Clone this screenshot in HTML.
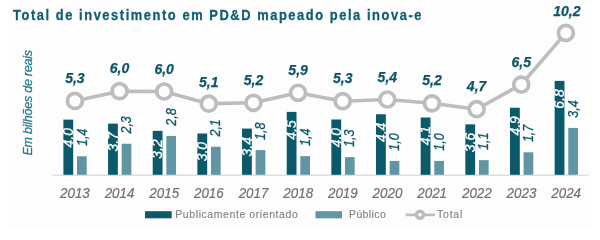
<!DOCTYPE html>
<html><head><meta charset="utf-8"><style>
html,body{margin:0;padding:0;background:#fff;}
body{width:600px;height:236px;position:relative;overflow:hidden;font-family:"Liberation Sans",sans-serif;}
#bg{position:absolute;left:6.5px;top:0;width:584px;height:226.5px;background:#fdfdfd;}
svg{position:absolute;left:0;top:0;will-change:transform;}
.bl{font-size:15.5px;font-style:italic;stroke-width:0.3px;font-family:"Liberation Sans",sans-serif;}
.yr{font-size:15px;font-style:italic;fill:#717171;stroke:#717171;stroke-width:0.2px;font-family:"Liberation Sans",sans-serif;}
.tt{font-size:14px;font-weight:bold;fill:#115e70;stroke:#115e70;stroke-width:0.3px;font-family:"Liberation Sans",sans-serif;}
.tl{font-size:15px;font-style:italic;font-weight:bold;fill:#0e5568;stroke:#0e5568;stroke-width:0.25px;font-family:"Liberation Sans",sans-serif;}
.ya{font-size:12.5px;font-style:italic;fill:#2a7b8d;stroke:#2a7b8d;stroke-width:0.3px;font-family:"Liberation Sans",sans-serif;}
.lg{font-size:11.3px;fill:#7f7f7f;stroke:#7f7f7f;stroke-width:0.12px;font-family:"Liberation Sans",sans-serif;}
</style></head><body>
<div id="bg"></div>

<svg width="600" height="236" viewBox="0 0 600 236">
<text class="tt" transform="translate(13,19.6) scale(0.92,1)" x="0" y="0" textLength="444" lengthAdjust="spacing">Total de investimento em PD&amp;D mapeado pela inova-e</text>
<text class="ya" transform="translate(32.4,155.5) rotate(-90)" textLength="105.5" lengthAdjust="spacing">Em bilhões de reais</text>
<line x1="52.5" y1="175.2" x2="588.8" y2="175.2" stroke="#dedede" stroke-width="1.4"/>
<rect x="63.40" y="119.63" width="9.8" height="55.17" fill="#0b5a6b"/>
<rect x="77.00" y="156.26" width="9.7" height="18.54" fill="#6096a3"/>
<text class="bl" fill="#fff" stroke="#fff" transform="translate(73.00,128.13) rotate(-90)" text-anchor="end" textLength="19.3" lengthAdjust="spacingAndGlyphs">4,0</text>
<text class="bl" fill="#0e5568" stroke="#0e5568" transform="translate(86.50,146.06) rotate(-90)" text-anchor="start" textLength="17.4" lengthAdjust="spacingAndGlyphs">1,4</text>
<text class="yr" x="74.90" y="197.5" text-anchor="middle" textLength="29.8" lengthAdjust="spacingAndGlyphs">2013</text>
<rect x="108.06" y="123.63" width="9.8" height="51.17" fill="#0b5a6b"/>
<rect x="121.66" y="143.76" width="9.7" height="31.04" fill="#6096a3"/>
<text class="bl" fill="#fff" stroke="#fff" transform="translate(117.66,132.13) rotate(-90)" text-anchor="end" textLength="19.3" lengthAdjust="spacingAndGlyphs">3,7</text>
<text class="bl" fill="#0e5568" stroke="#0e5568" transform="translate(131.16,133.56) rotate(-90)" text-anchor="start" textLength="17.4" lengthAdjust="spacingAndGlyphs">2,3</text>
<text class="yr" x="119.56" y="197.5" text-anchor="middle" textLength="29.8" lengthAdjust="spacingAndGlyphs">2014</text>
<rect x="152.72" y="130.87" width="9.8" height="43.93" fill="#0b5a6b"/>
<rect x="166.32" y="135.95" width="9.7" height="38.85" fill="#6096a3"/>
<text class="bl" fill="#fff" stroke="#fff" transform="translate(162.32,139.37) rotate(-90)" text-anchor="end" textLength="19.3" lengthAdjust="spacingAndGlyphs">3,2</text>
<text class="bl" fill="#0e5568" stroke="#0e5568" transform="translate(175.82,125.75) rotate(-90)" text-anchor="start" textLength="17.4" lengthAdjust="spacingAndGlyphs">2,8</text>
<text class="yr" x="164.22" y="197.5" text-anchor="middle" textLength="29.8" lengthAdjust="spacingAndGlyphs">2015</text>
<rect x="197.38" y="133.50" width="9.8" height="41.30" fill="#0b5a6b"/>
<rect x="210.98" y="146.77" width="9.7" height="28.03" fill="#6096a3"/>
<text class="bl" fill="#fff" stroke="#fff" transform="translate(206.98,142.00) rotate(-90)" text-anchor="end" textLength="19.3" lengthAdjust="spacingAndGlyphs">3,0</text>
<text class="bl" fill="#0e5568" stroke="#0e5568" transform="translate(220.48,136.57) rotate(-90)" text-anchor="start" textLength="17.4" lengthAdjust="spacingAndGlyphs">2,1</text>
<text class="yr" x="208.88" y="197.5" text-anchor="middle" textLength="29.8" lengthAdjust="spacingAndGlyphs">2016</text>
<rect x="242.04" y="128.58" width="9.8" height="46.22" fill="#0b5a6b"/>
<rect x="255.64" y="150.12" width="9.7" height="24.68" fill="#6096a3"/>
<text class="bl" fill="#fff" stroke="#fff" transform="translate(251.64,137.08) rotate(-90)" text-anchor="end" textLength="19.3" lengthAdjust="spacingAndGlyphs">3,4</text>
<text class="bl" fill="#0e5568" stroke="#0e5568" transform="translate(265.14,139.92) rotate(-90)" text-anchor="start" textLength="17.4" lengthAdjust="spacingAndGlyphs">1,8</text>
<text class="yr" x="253.54" y="197.5" text-anchor="middle" textLength="29.8" lengthAdjust="spacingAndGlyphs">2017</text>
<rect x="286.70" y="111.87" width="9.8" height="62.93" fill="#0b5a6b"/>
<rect x="300.30" y="156.14" width="9.7" height="18.66" fill="#6096a3"/>
<text class="bl" fill="#fff" stroke="#fff" transform="translate(296.30,120.37) rotate(-90)" text-anchor="end" textLength="19.3" lengthAdjust="spacingAndGlyphs">4,5</text>
<text class="bl" fill="#0e5568" stroke="#0e5568" transform="translate(309.80,145.94) rotate(-90)" text-anchor="start" textLength="17.4" lengthAdjust="spacingAndGlyphs">1,4</text>
<text class="yr" x="298.20" y="197.5" text-anchor="middle" textLength="29.8" lengthAdjust="spacingAndGlyphs">2018</text>
<rect x="331.36" y="119.50" width="9.8" height="55.30" fill="#0b5a6b"/>
<rect x="344.96" y="157.14" width="9.7" height="17.66" fill="#6096a3"/>
<text class="bl" fill="#fff" stroke="#fff" transform="translate(340.96,128.00) rotate(-90)" text-anchor="end" textLength="19.3" lengthAdjust="spacingAndGlyphs">4,0</text>
<text class="bl" fill="#0e5568" stroke="#0e5568" transform="translate(354.46,146.94) rotate(-90)" text-anchor="start" textLength="17.4" lengthAdjust="spacingAndGlyphs">1,3</text>
<text class="yr" x="342.86" y="197.5" text-anchor="middle" textLength="29.8" lengthAdjust="spacingAndGlyphs">2019</text>
<rect x="376.02" y="114.26" width="9.8" height="60.54" fill="#0b5a6b"/>
<rect x="389.62" y="160.95" width="9.7" height="13.85" fill="#6096a3"/>
<text class="bl" fill="#fff" stroke="#fff" transform="translate(385.62,122.76) rotate(-90)" text-anchor="end" textLength="19.3" lengthAdjust="spacingAndGlyphs">4,4</text>
<text class="bl" fill="#0e5568" stroke="#0e5568" transform="translate(399.12,150.75) rotate(-90)" text-anchor="start" textLength="17.4" lengthAdjust="spacingAndGlyphs">1,0</text>
<text class="yr" x="387.52" y="197.5" text-anchor="middle" textLength="29.8" lengthAdjust="spacingAndGlyphs">2020</text>
<rect x="420.68" y="117.50" width="9.8" height="57.30" fill="#0b5a6b"/>
<rect x="434.28" y="160.95" width="9.7" height="13.85" fill="#6096a3"/>
<text class="bl" fill="#fff" stroke="#fff" transform="translate(430.28,126.00) rotate(-90)" text-anchor="end" textLength="19.3" lengthAdjust="spacingAndGlyphs">4,1</text>
<text class="bl" fill="#0e5568" stroke="#0e5568" transform="translate(443.78,150.75) rotate(-90)" text-anchor="start" textLength="17.4" lengthAdjust="spacingAndGlyphs">1,0</text>
<text class="yr" x="432.18" y="197.5" text-anchor="middle" textLength="29.8" lengthAdjust="spacingAndGlyphs">2021</text>
<rect x="465.34" y="124.36" width="9.8" height="50.44" fill="#0b5a6b"/>
<rect x="478.94" y="160.14" width="9.7" height="14.66" fill="#6096a3"/>
<text class="bl" fill="#fff" stroke="#fff" transform="translate(474.94,132.86) rotate(-90)" text-anchor="end" textLength="19.3" lengthAdjust="spacingAndGlyphs">3,6</text>
<text class="bl" fill="#0e5568" stroke="#0e5568" transform="translate(488.44,149.94) rotate(-90)" text-anchor="start" textLength="17.4" lengthAdjust="spacingAndGlyphs">1,1</text>
<text class="yr" x="476.84" y="197.5" text-anchor="middle" textLength="29.8" lengthAdjust="spacingAndGlyphs">2022</text>
<rect x="510.00" y="107.76" width="9.8" height="67.04" fill="#0b5a6b"/>
<rect x="523.60" y="152.30" width="9.7" height="22.50" fill="#6096a3"/>
<text class="bl" fill="#fff" stroke="#fff" transform="translate(519.60,116.26) rotate(-90)" text-anchor="end" textLength="19.3" lengthAdjust="spacingAndGlyphs">4,9</text>
<text class="bl" fill="#0e5568" stroke="#0e5568" transform="translate(533.10,142.10) rotate(-90)" text-anchor="start" textLength="17.4" lengthAdjust="spacingAndGlyphs">1,7</text>
<text class="yr" x="521.50" y="197.5" text-anchor="middle" textLength="29.8" lengthAdjust="spacingAndGlyphs">2023</text>
<rect x="554.66" y="80.87" width="9.8" height="93.93" fill="#0b5a6b"/>
<rect x="568.26" y="127.95" width="9.7" height="46.85" fill="#6096a3"/>
<text class="bl" fill="#fff" stroke="#fff" transform="translate(564.26,89.37) rotate(-90)" text-anchor="end" textLength="19.3" lengthAdjust="spacingAndGlyphs">6,8</text>
<text class="bl" fill="#0e5568" stroke="#0e5568" transform="translate(577.76,117.75) rotate(-90)" text-anchor="start" textLength="17.4" lengthAdjust="spacingAndGlyphs">3,4</text>
<text class="yr" x="566.16" y="197.5" text-anchor="middle" textLength="29.8" lengthAdjust="spacingAndGlyphs">2024</text>
<polyline points="74.90,100.90 119.54,91.18 164.17,91.48 208.81,103.67 253.44,102.78 298.08,92.77 342.72,101.20 387.35,99.51 431.99,103.28 476.62,109.22 521.26,84.54 565.90,32.88" fill="none" stroke="#bdbdbd" stroke-width="3.6" stroke-linejoin="round"/>
<circle cx="74.90" cy="100.90" r="7.5" fill="#fdfdfd" stroke="#bdbdbd" stroke-width="3.7"/>
<text class="tl" x="74.90" y="83.00" text-anchor="middle" textLength="19.5" lengthAdjust="spacingAndGlyphs">5,3</text>
<circle cx="119.54" cy="91.18" r="7.5" fill="#fdfdfd" stroke="#bdbdbd" stroke-width="3.7"/>
<text class="tl" x="119.54" y="73.28" text-anchor="middle" textLength="19.5" lengthAdjust="spacingAndGlyphs">6,0</text>
<circle cx="164.17" cy="91.48" r="7.5" fill="#fdfdfd" stroke="#bdbdbd" stroke-width="3.7"/>
<text class="tl" x="164.17" y="73.58" text-anchor="middle" textLength="19.5" lengthAdjust="spacingAndGlyphs">6,0</text>
<circle cx="208.81" cy="103.67" r="7.5" fill="#fdfdfd" stroke="#bdbdbd" stroke-width="3.7"/>
<text class="tl" x="208.81" y="86.57" text-anchor="middle" textLength="19.5" lengthAdjust="spacingAndGlyphs">5,1</text>
<circle cx="253.44" cy="102.78" r="7.5" fill="#fdfdfd" stroke="#bdbdbd" stroke-width="3.7"/>
<text class="tl" x="253.44" y="85.18" text-anchor="middle" textLength="19.5" lengthAdjust="spacingAndGlyphs">5,2</text>
<circle cx="298.08" cy="92.77" r="7.5" fill="#fdfdfd" stroke="#bdbdbd" stroke-width="3.7"/>
<text class="tl" x="298.08" y="75.17" text-anchor="middle" textLength="19.5" lengthAdjust="spacingAndGlyphs">5,9</text>
<circle cx="342.72" cy="101.20" r="7.5" fill="#fdfdfd" stroke="#bdbdbd" stroke-width="3.7"/>
<text class="tl" x="342.72" y="83.30" text-anchor="middle" textLength="19.5" lengthAdjust="spacingAndGlyphs">5,3</text>
<circle cx="387.35" cy="99.51" r="7.5" fill="#fdfdfd" stroke="#bdbdbd" stroke-width="3.7"/>
<text class="tl" x="387.35" y="81.61" text-anchor="middle" textLength="19.5" lengthAdjust="spacingAndGlyphs">5,4</text>
<circle cx="431.99" cy="103.28" r="7.5" fill="#fdfdfd" stroke="#bdbdbd" stroke-width="3.7"/>
<text class="tl" x="431.99" y="85.38" text-anchor="middle" textLength="19.5" lengthAdjust="spacingAndGlyphs">5,2</text>
<circle cx="476.62" cy="109.22" r="7.5" fill="#fdfdfd" stroke="#bdbdbd" stroke-width="3.7"/>
<text class="tl" x="476.62" y="91.32" text-anchor="middle" textLength="19.5" lengthAdjust="spacingAndGlyphs">4,7</text>
<circle cx="521.26" cy="84.54" r="7.5" fill="#fdfdfd" stroke="#bdbdbd" stroke-width="3.7"/>
<text class="tl" x="521.26" y="66.94" text-anchor="middle" textLength="19.5" lengthAdjust="spacingAndGlyphs">6,5</text>
<circle cx="565.90" cy="32.88" r="7.5" fill="#fdfdfd" stroke="#bdbdbd" stroke-width="3.7"/>
<text class="tl" x="566.90" y="15.58" text-anchor="middle" textLength="27.4" lengthAdjust="spacingAndGlyphs">10,2</text>
<rect x="145" y="211.2" width="26.7" height="7.1" fill="#0b5a6b"/>
<text class="lg" transform="translate(175.3,218) scale(0.93,1)" x="0" y="0" textLength="131.72" lengthAdjust="spacing">Publicamente orientado</text>
<rect x="315.5" y="211.2" width="26.5" height="7.1" fill="#6096a3"/>
<text class="lg" transform="translate(349,218) scale(0.93,1)" x="0" y="0" textLength="39.57" lengthAdjust="spacing">Público</text>
<line x1="405.6" y1="214.9" x2="435" y2="214.9" stroke="#bdbdbd" stroke-width="2.7"/>
<circle cx="420" cy="214.8" r="3.5" fill="#fdfdfd" stroke="#bdbdbd" stroke-width="3.5"/>
<text class="lg" transform="translate(437,218.3) scale(0.93,1)" x="0" y="0" textLength="27.20" lengthAdjust="spacing">Total</text>
</svg>
</body></html>
